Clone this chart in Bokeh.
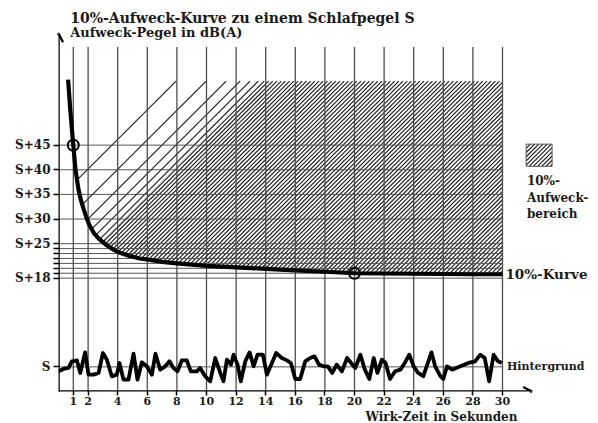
import numpy as np
from bokeh.plotting import figure
from bokeh.models import Range1d, FixedTicker, Arrow, OpenHead, Label, Title
from bokeh.embed import file_html
from bokeh.resources import INLINE

# ---------------- data ----------------
title_text = "10%-Aufweck-Kurve zu einem Schlafpegel S"
y_label_text = "Aufweck-Pegel in dB(A)"
x_label_text = "Wirk-Zeit in Sekunden"

x_ticks = [1, 2, 4, 6, 8, 10, 12, 14, 16, 18, 20, 22, 24, 26, 28, 30]
y_ticks = [0, 18, 19, 20, 21, 22, 23, 24, 25, 30, 35, 40, 45]
y_tick_labels = {0: "S", 18: "S+18", 25: "S+25", 30: "S+30",
                 35: "S+35", 40: "S+40", 45: "S+45"}

# 10%-Kurve (dB above S)
curve_t = [0.65, 0.8, 1.0, 1.15, 1.35, 1.5, 1.7, 1.9, 2.1, 2.4, 2.8, 3.2, 3.7,
           4.2, 4.8, 5.5, 6.2, 7, 8, 9, 10, 12, 14, 16, 18, 20, 22, 24, 26, 28, 30]
curve_db = [58.3, 52.0, 45.0, 40.0, 36.0, 34.0, 32.0, 30.2, 28.7, 27.1, 25.8,
            24.8, 23.8, 23.1, 22.5, 22.0, 21.7, 21.3, 21.0, 20.75, 20.5, 20.2,
            19.9, 19.6, 19.3, 19.0, 18.95, 18.9, 18.85, 18.8, 18.8]
marker_t = [1, 20]
marker_db = [45, 19]

# Hintergrund (background level, dB relative to S)
noise_t = [0, 0.34, 0.68, 0.9, 1.24, 1.47, 1.8, 2.03, 2.37, 2.71, 3.0, 3.27, 3.6,
           3.94, 4.12, 4.39, 4.73, 5.07, 5.34, 5.63, 5.97, 6.31, 6.55, 6.87, 7.21,
           7.5, 7.77, 8.04, 8.33, 8.67, 8.94, 9.35, 9.57, 9.91, 10.25, 10.59, 10.93,
           11.15, 11.38, 11.65, 11.83, 12.1, 12.32, 12.62, 12.91, 13.18, 13.45,
           13.81, 14.08, 14.42, 14.71, 15.09, 15.43, 15.7, 16.0, 16.33, 16.67, 17.0,
           17.3, 17.6, 17.9, 18.2, 18.5, 18.8, 19.15, 19.5, 20.05, 20.4, 20.7, 21.0,
           21.3, 21.55, 21.85, 22.1, 22.4, 22.75, 23.1, 23.4, 23.7, 24.0, 24.3,
           24.65, 25.2, 25.45, 25.8, 26.0, 26.25, 26.6, 27.15, 27.7, 28.15, 28.5,
           28.8, 29.1, 29.4, 29.7, 29.95]
noise_db = [-0.9, -0.42, -0.22, 1.12, 1.32, -1.24, 2.94, -1.58, -1.58, -1.24, 2.81,
            1.46, -1.92, -1.58, 0.78, -2.59, -2.59, 2.67, -2.59, 0.92, 0.11, -1.58,
            2.67, -0.56, 0.11, 1.12, -0.22, -0.9, 1.32, 1.32, -0.9, -0.9, -0.23,
            -1.9, -2.93, 1.79, -1.24, -2.93, 1.46, 0.45, 2.47, 0.45, -2.93, 1.12,
            2.94, 0.11, 2.47, 2.47, -1.58, 0.79, 2.81, 1.79, 1.32, 0.79, -2.46,
            -2.46, 1.11, 1.79, 2.13, 0.45, 0.11, 0.11, -1.24, 0.45, -0.9, 1.8,
            -0.23, 2.47, -0.57, -2.46, 1.79, -1.24, 1.46, 0.79, -2.46, -0.9, -0.57,
            0.79, 2.47, 0.11, -1.24, -1.9, 2.94, 0.11, -1.9, -2.46, 0.11, -0.57,
            0.11, 0.79, 1.12, 2.47, 1.79, -2.93, 2.47, 1.12, 0.79]

# hatched wake-up zone
hatch_top_db = 58.0
sparse_hatch_tops = [7.95, 9.98, 11.33, 12.27, 12.95, 13.5, 13.9]
dense_hatch_start = 14.2
hatch_gap_px = 4.2
grid_top_db = 64.9
legend_box = (31.6, 33.35, 40.7, 45.2)  # left, right, bottom, top

# ---------------- figure ----------------
W, H = 598, 423
BL, BB = 58, 31
x_rng = (0.0, (W - BL) / 14.8)
y_rng = (-5.0, -5.0 + (H - BB) / 4.94)

p = figure(width=W, height=H, x_range=Range1d(*x_rng), y_range=Range1d(*y_rng),
           output_backend="svg", toolbar_location=None,
           min_border_left=BL, min_border_right=0, min_border_top=0,
           min_border_bottom=BB)
p.outline_line_color = None
p.xgrid.visible = False
p.ygrid.visible = False
p.background_fill_color = "white"

FONT = "DejaVu Serif"
INK = "#1a1a1a"

# pixel-per-unit ratio for 45 degree hatch lines
xpx = (W - BL) / (x_rng[1] - x_rng[0])
ypx = (H - BB) / (y_rng[1] - y_rng[0])
k = ypx / xpx  # seconds per dB along a 45deg (screen) line
gap_t = hatch_gap_px / xpx

ct = np.array(curve_t)
cd = np.array(curve_db)


def hatch_lines(c_values, t_lo, t_hi, low_fn, top):
    tt = np.linspace(t_lo, t_hi, 4000)
    lo = low_fn(tt)
    out = ([], [], [], [])
    for c in c_values:
        d = top - (c - tt) / k
        m = np.where((d >= lo) & (d <= top))[0]
        if len(m):
            out[0].append(tt[m[0]]); out[1].append(d[m[0]])
            out[2].append(tt[m[-1]]); out[3].append(d[m[-1]])
    return out


def curve_low(tt):
    return np.interp(tt, ct, cd)


HATCH = "#1f1f1f"
# sparse + dense hatch of the wake-up zone
dense_c = np.arange(dense_hatch_start,
                    curve_t[-1] + k * (hatch_top_db - curve_db[-1]), gap_t)
all_c = list(sparse_hatch_tops) + list(dense_c)
hx0, hy0, hx1, hy1 = hatch_lines(all_c, curve_t[0], curve_t[-1], curve_low, hatch_top_db)
p.segment(x0=hx0, y0=hy0, x1=hx1, y1=hy1, line_color=HATCH, line_width=1.2)

# legend box hatch
lb_l, lb_r, lb_b, lb_t = legend_box
leg_c = np.arange(lb_l, lb_r + k * (lb_t - lb_b), gap_t)
lx0, ly0, lx1, ly1 = hatch_lines(leg_c, lb_l, lb_r, lambda tt: np.full_like(tt, lb_b), lb_t)
p.segment(x0=lx0, y0=ly0, x1=lx1, y1=ly1, line_color=HATCH, line_width=1.2)
p.quad(left=[lb_l], right=[lb_r], bottom=[lb_b], top=[lb_t], fill_color=None,
       line_color="#555555", line_width=1)

# grid
p.segment(x0=x_ticks, y0=[y_rng[0]] * len(x_ticks), x1=x_ticks,
          y1=[grid_top_db] * len(x_ticks), line_color="#4d4d4d", line_width=1.3)
p.segment(x0=[0] * len(y_ticks), y0=y_ticks, x1=[x_ticks[-1]] * len(y_ticks),
          y1=y_ticks, line_color="#555555", line_width=1)

# background noise
p.line(noise_t, noise_db, line_color="black", line_width=3.8, line_join="round")

# 10% curve
p.line(curve_t, curve_db, line_color="black", line_width=4.2, line_join="round")
p.scatter(marker_t, marker_db, marker="circle", size=11, fill_color=None,
          line_color="black", line_width=1.8)

# axes
for ax, tk in ((p.xaxis, x_ticks), (p.yaxis, y_ticks)):
    ax.ticker = FixedTicker(ticks=tk)
    ax.axis_line_color = None
    ax.major_tick_line_color = "black"
    ax.major_tick_line_width = 1.5
    ax.major_tick_in = 1
    ax.minor_tick_line_color = None
    ax.major_label_text_font = FONT
    ax.major_label_text_font_style = "bold"
    ax.major_label_text_color = INK
p.yaxis.major_tick_out = 5
p.xaxis.major_tick_out = 4
p.xaxis.major_label_text_font_size = "11px"
p.yaxis.major_label_text_font_size = "12px"
p.yaxis.major_label_overrides = {t: y_tick_labels.get(t, "") for t in y_ticks}
p.yaxis.major_label_standoff = 3
p.xaxis.major_label_standoff = 1

p.add_layout(Title(text=x_label_text, align="left", offset=307, standoff=0,
                   text_font=FONT, text_font_style="bold", text_font_size="12px",
                   text_color=INK), "below")

p.add_layout(Arrow(end=OpenHead(size=9, line_width=2.2, line_color="black"),
                   x_start=0, y_start=-6.0, x_end=0, y_end=67.7,
                   line_width=2.5, line_color="black"))
p.add_layout(Arrow(end=OpenHead(size=9, line_width=2.2, line_color="black"),
                   x_start=0, y_start=y_rng[0], x_end=32.0, y_end=y_rng[0],
                   line_width=2.5, line_color="black"))

# texts
p.add_layout(Label(x=0.79, y=70.9, text=title_text, text_font=FONT,
                   text_font_style="bold", text_font_size="14px",
                   text_baseline="middle", text_color=INK))
p.add_layout(Label(x=0.79, y=67.9, text=y_label_text, text_font=FONT,
                   text_font_style="bold", text_font_size="13px",
                   text_baseline="middle", text_color=INK))
p.add_layout(Label(x=30.2, y=18.8, text="10%-Kurve", text_font=FONT,
                   text_font_style="bold", text_font_size="13.5px",
                   text_baseline="middle", text_color=INK))
p.add_layout(Label(x=30.3, y=0.1, text="Hintergrund", text_font=FONT,
                   text_font_style="bold", text_font_size="11px",
                   text_baseline="middle", text_color=INK))
p.add_layout(Label(x=31.65, y=39.2, text="10%-\nAufweck-\nbereich", text_font=FONT,
                   text_font_style="bold", text_font_size="12px",
                   text_baseline="top", text_line_height=1.2, text_color=INK))

open("out.html", "w").write(file_html(p, INLINE))
